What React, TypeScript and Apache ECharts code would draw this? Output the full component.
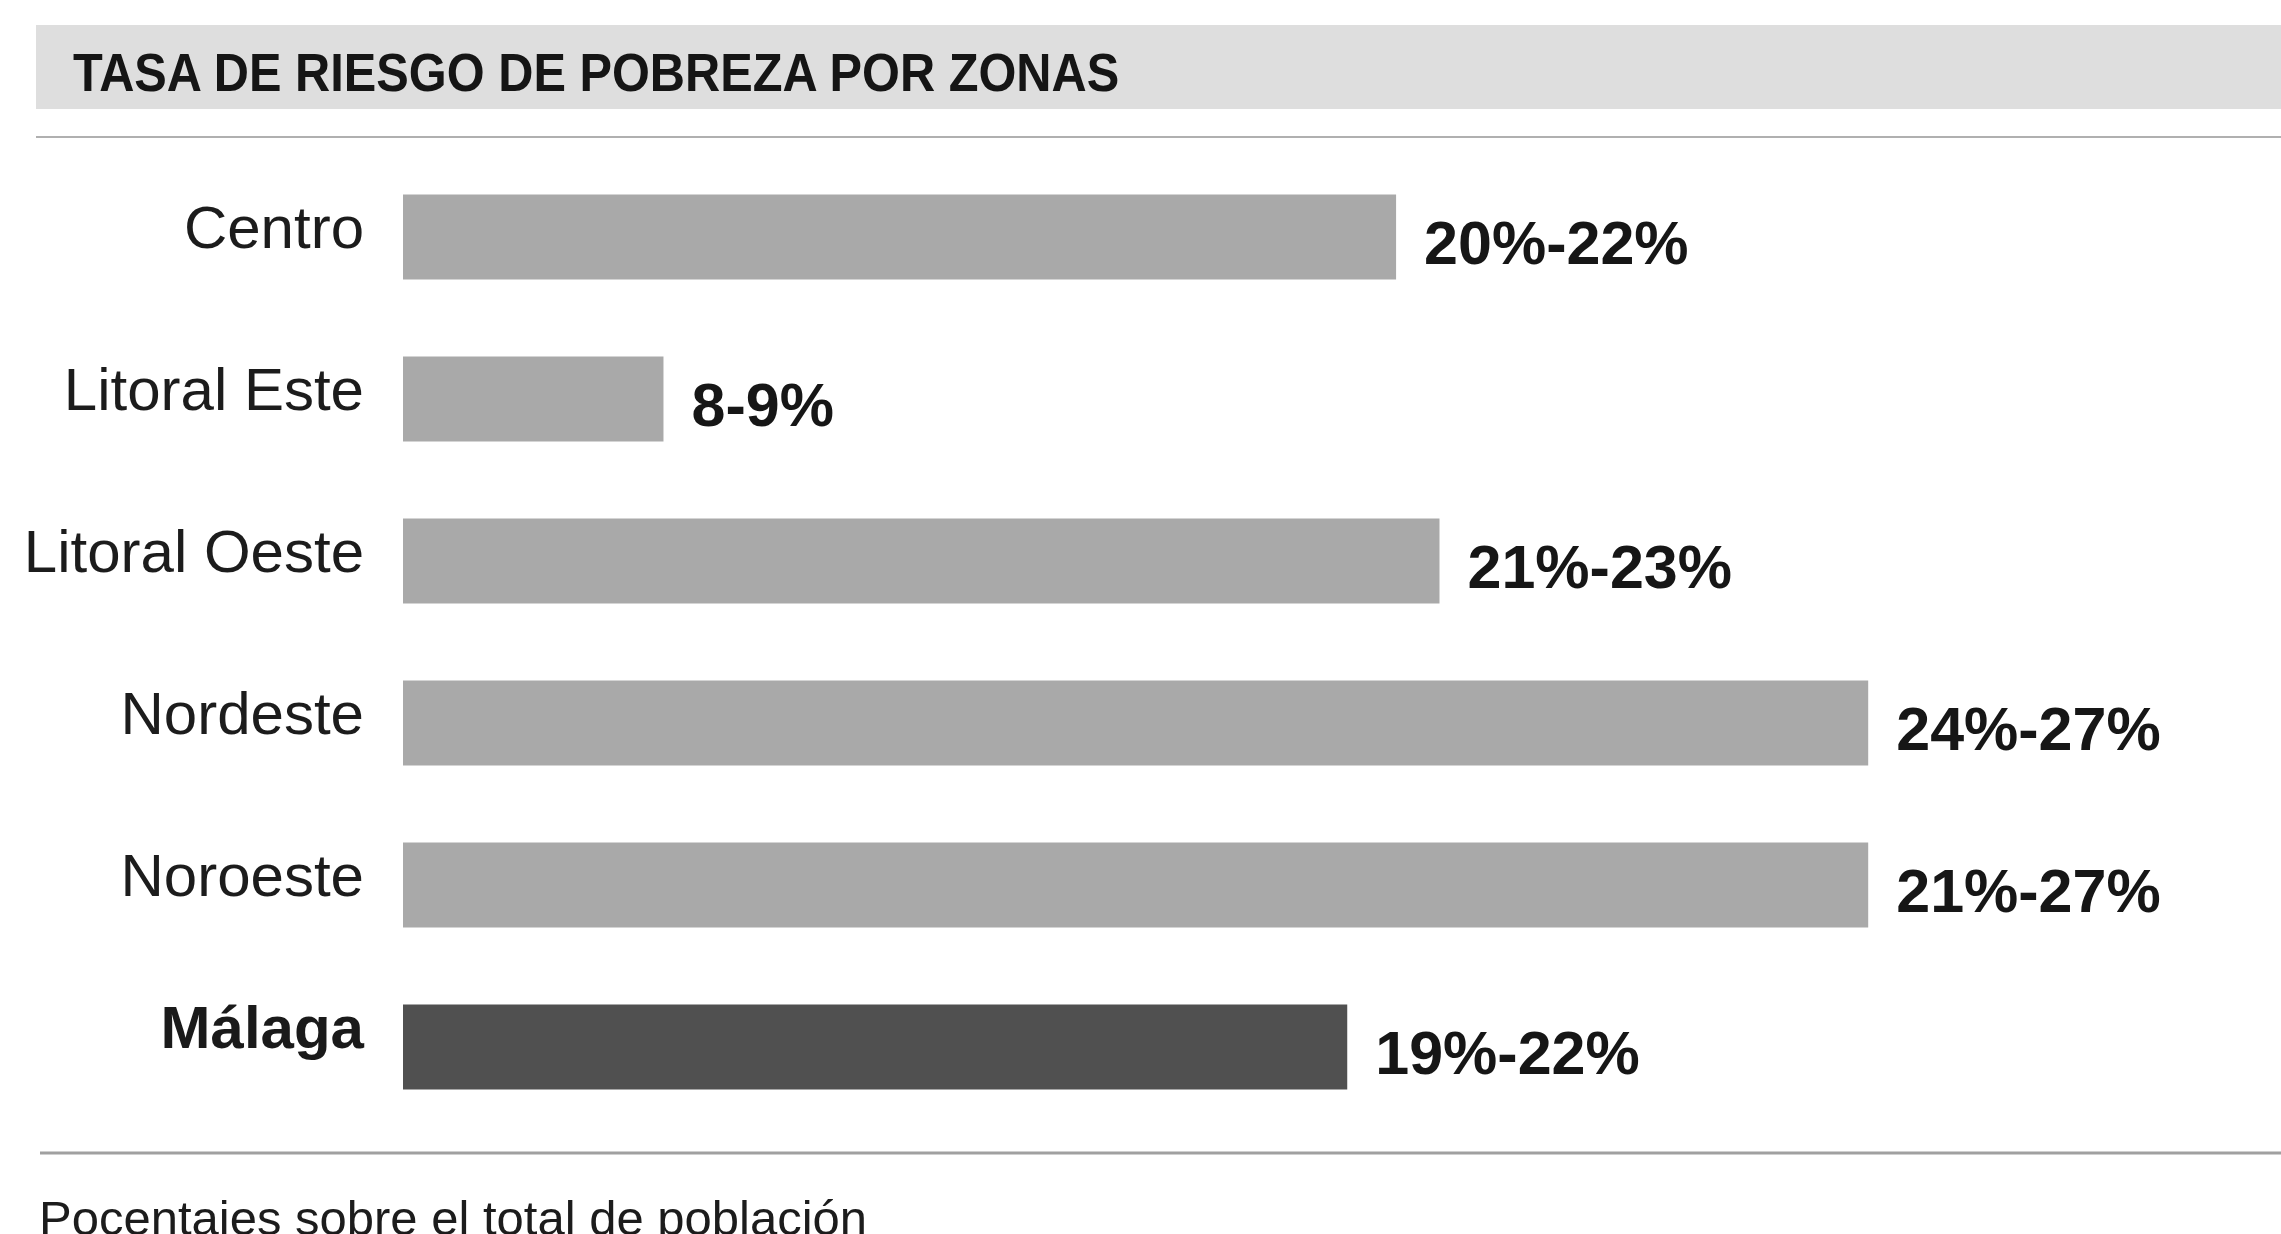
import React, { useEffect, useRef } from "react";
import * as echarts from "echarts";

const zones = ["Centro", "Litoral Este", "Litoral Oeste", "Nordeste", "Noroeste", "Málaga"];
const barValues = [18.3, 4.8, 19.1, 27, 27, 17.4];
const rangeLabels = ["20%-22%", "8-9%", "21%-23%", "24%-27%", "21%-27%", "19%-22%"];
const titleText = "TASA DE RIESGO DE POBREZA POR ZONAS";
const footerText = "Pocentajes sobre el total de población";
const highlightZone = "Málaga";

const W = 2281;
const H = 1234;

export default function App() {
  const ref = useRef<HTMLDivElement>(null);

  useEffect(() => {
    if (!ref.current) return;
    const chart = echarts.init(ref.current, null, { renderer: "svg" });
    const font = "'Liberation Sans', Arial, sans-serif";
    chart.setOption({
      animation: false,
      backgroundColor: "#ffffff",
      grid: { left: 403, right: 250, top: 156, bottom: 106, containLabel: false },
      xAxis: { type: "value", min: 0, max: 30, show: false },
      yAxis: {
        type: "category",
        data: zones,
        inverse: true,
        axisLine: { show: false },
        axisTick: { show: false },
        splitLine: { show: false },
        axisLabel: {
          margin: 39,
          fontSize: 60,
          fontFamily: font,
          color: "#1c1c1c",
          padding: [0, 0, 20, 0],
          formatter: (v: string) => (v === highlightZone ? `{b|${v}}` : v),
          rich: {
            b: { fontSize: 60, fontWeight: "bold", fontFamily: font, color: "#1a1a1a", padding: [0, 0, 20, 0] },
          },
        },
      },
      series: [
        {
          type: "bar",
          data: barValues,
          barWidth: 85,
          itemStyle: {
            color: (p: any) => (zones[p.dataIndex] === highlightZone ? "#505050" : "#a9a9a9"),
          },
          label: {
            show: true,
            position: "right",
            distance: 28,
            offset: [0, 6],
            formatter: (p: any) => rangeLabels[p.dataIndex],
            fontSize: 61,
            fontWeight: "bold",
            fontFamily: font,
            color: "#161616",
          },
        },
      ],
      graphic: [
        {
          type: "rect",
          shape: { x: 36, y: 25, width: W - 36, height: 84 },
          style: { fill: "#dedede" },
          silent: true,
        },
        {
          type: "text",
          x: 73,
          y: 73,
          scaleX: 0.92,
          style: {
            text: titleText,
            fontSize: 53,
            fontWeight: "bold",
            fontFamily: font,
            fill: "#151515",
            verticalAlign: "middle",
            align: "left",
          },
        },
        {
          type: "line",
          shape: { x1: 36, y1: 137, x2: W, y2: 137 },
          style: { stroke: "#b0b0b0", lineWidth: 2 },
        },
        {
          type: "line",
          shape: { x1: 40, y1: 1153, x2: W, y2: 1153 },
          style: { stroke: "#a0a0a0", lineWidth: 3 },
        },
        {
          type: "text",
          x: 39,
          y: 1218,
          style: {
            text: footerText,
            fontSize: 49,
            fontFamily: font,
            fill: "#1c1c1c",
            verticalAlign: "middle",
            align: "left",
          },
        },
      ],
    });
    return () => chart.dispose();
  }, []);

  return <div ref={ref} style={{ position: "fixed", left: 0, top: 0, width: W, height: H }} />;
}
